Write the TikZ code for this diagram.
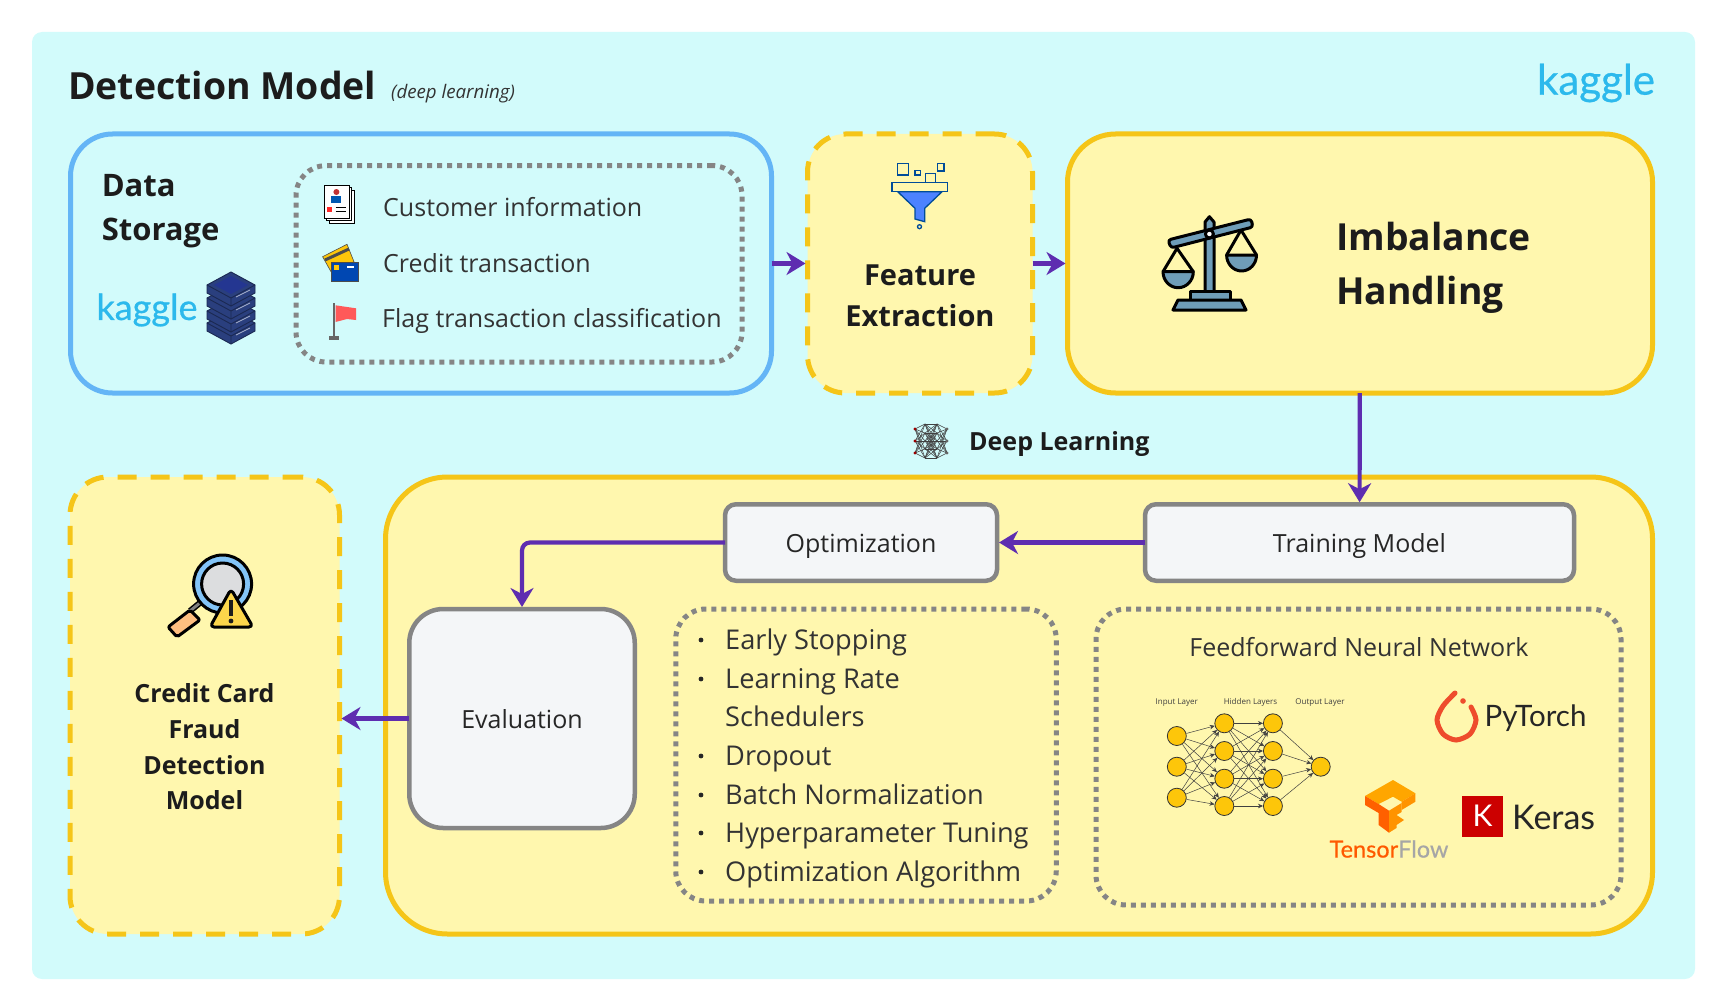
\documentclass[tikz,border=0pt]{standalone}
\usepackage{fontspec}
\usepackage{xcolor}
\usepackage{tikz}
\usetikzlibrary{arrows.meta,positioning,calc}
\setmainfont{Open Sans}
\newfontfamily\logofont{Lato}
\definecolor{cSky}{HTML}{D2FBFB}
\definecolor{cSoft}{HTML}{FFF7AE}
\definecolor{cGold}{HTML}{F5C518}
\definecolor{cBlue}{HTML}{64B5F6}
\definecolor{cGrey}{HTML}{858585}
\definecolor{cPale}{HTML}{F4F6F8}
\definecolor{cFlow}{HTML}{5E2DB0}
\definecolor{cInk}{HTML}{1C1C1C}
\definecolor{cKag}{HTML}{2CB9EC}
\definecolor{cNet}{HTML}{FDC60A}
\definecolor{cTorch}{HTML}{EE4C2C}
\definecolor{cSteel}{HTML}{6F9DB8}
\definecolor{cDeep}{HTML}{2A3F7E}
\tikzset{
  panel/.style={rounded corners=#1, line width=5pt, outer sep=0pt, inner sep=0pt, align=center, text=cInk},
  solid box/.style={panel=38pt, draw=cGold, fill=cSoft},
  dash box/.style={panel=38pt, draw=cGold, fill=cSoft, dash pattern=on 19pt off 14pt},
  dots box/.style={panel=30pt, draw=cGrey, dash pattern=on 5pt off 5pt},
  step box/.style={panel=#1, draw=cGrey, fill=cPale, line width=4.5pt, text=black!85, font=\fontsize{25}{25}\selectfont, text height=25pt, text depth=5pt},
  head/.style={font=\bfseries\fontsize{#1}{#1}\selectfont, text=cInk, inner sep=0pt},
  body/.style={font=\fontsize{#1}{#1}\selectfont, text=black!80, inner sep=0pt},
  logo/.style={font=\logofont\fontsize{#1}{#1}\selectfont, text=cKag, inner sep=0pt},
  flow/.style={-{Stealth[length=19pt,width=23pt,inset=6pt]}, line width=4.2pt, draw=cFlow, shorten >=2pt},
  neuron/.style={circle, draw=black!80, fill=cNet, line width=0.8pt, minimum size=19pt, inner sep=0pt},
  syn/.style={-{Stealth[length=5pt,width=4.5pt]}, line width=0.5pt, draw=black!75},
  tiny lbl/.style={font=\fontsize{8}{8}\selectfont, text=black!75, inner sep=0pt},
  mark line/.style={draw=black, line width=3pt, line join=round},
}
\begin{document}
\begin{tikzpicture}[x=1pt,y=-1pt]
  \useasboundingbox (0,0) rectangle (1731,1006);
  \fill[cSky, rounded corners=10pt] (32,32) rectangle (1695,979);
  \node[head=37.4, anchor=base west] (title) at (68,100) {Detection Model};
  \node[body=18.7, anchor=base west] (sub) at (391,98.5) {\itshape (deep learning)};
  \node[logo=42, font=\logofont\fontsize{42}{42}\selectfont\addfontfeature{FakeBold=0.6}] (kag) at (1596,83) {kaggle};

  % upper row
  \node[panel=42pt, draw=cBlue, minimum width=701pt, minimum height=259pt, anchor=north west] (data) at (70.5,134) {};
  \node[dash box, right=36pt of data, minimum width=225pt, minimum height=259pt] (feat) {};
  \node[solid box, panel=48pt, right=35pt of feat, minimum width=585pt, minimum height=259pt] (imb) {};
  \node[dots box, minimum width=446pt, minimum height=196.4pt] (src) at (519,263.8) {};
  \node[head=31, anchor=base west] (d1) at (101.6,196) {Data};
  \node[head=31, anchor=base west] (d2) at (101.6,240) {Storage};
  \node[logo=36, font=\logofont\fontsize{36}{36}\selectfont\addfontfeature{FakeBold=0.6}] (kag2) at (147,310) {kaggle};
  \node[body=25, anchor=base west] (src1) at (383,216.5) {Customer information};
  \node[body=25, anchor=base west] (src2) at (383,272) {Credit transaction};
  \node[body=25, anchor=base west] (src3) at (382,327) {Flag transaction classification};
  \node[head=29, anchor=base] (f1) at (920,285) {Feature};
  \node[head=29, anchor=base] (f2) at (920,326) {Extraction};
  \node[head=37.3, anchor=base west] (i1) at (1336,250) {Imbalance};
  \node[head=37.3, anchor=base west] (i2) at (1336,304) {Handling};

  % lower row
  \node[dash box, anchor=north west, minimum width=269.5pt, minimum height=457pt] (fraud) at (70,477) {};
  \node[solid box, panel=62pt, right=46pt of fraud, minimum width=1267pt, minimum height=457pt] (deep) {};
  \node[head=25, anchor=base west] (dl) at (969,450) {Deep Learning};
  \node[step box=11pt, minimum width=429pt, minimum height=76.5pt] (trn) at (1359.5,542.5) {Training Model};
  \node[step box=11pt, left=148pt of trn, minimum width=272pt, minimum height=76.5pt] (opt) {Optimization};
  \node[step box=34pt, minimum width=225.5pt, minimum height=219pt] (eval) at (522,718.5) {Evaluation};
  \node[dots box, minimum width=380.5pt, minimum height=292pt] (tune) at (866,755) {};
  \node[dots box, minimum width=525pt, minimum height=296pt] (fnn) at (1358.5,757) {};
  \foreach \n/\yy/\txt in {a/649/Early Stopping, b/688/Learning Rate, c/726/Schedulers, d/765/Dropout, e/804/Batch Normalization, f/842/Hyperparameter Tuning, g/881/Optimization Algorithm}
    \node[body=27.2, anchor=base west] (tune\n) at (725,\yy) {\txt};
  \foreach \n/\yy in {a/640,b/679,d/756,e/795,f/833,g/872}
    \fill[black!85] (701,\yy) circle (2.4pt);
  \node[body=25, anchor=base] (fnnhead) at (1359,656) {Feedforward Neural Network};
  \foreach \n/\yy/\txt in {a/702/Credit Card, b/738/Fraud, c/774/Detection, d/809/Model}
    \node[head=25, anchor=base] (res\n) at (204.5,\yy) {\txt};

  % network picture
  \foreach \i/\yy in {1/736,2/766.7,3/797.7} \node[neuron] (in\i) at (1176.8,\yy) {};
  \foreach \i/\yy in {1/723.3,2/751,3/778.7,4/806} {
    \node[neuron] (ha\i) at (1224.3,\yy) {};
    \node[neuron] (hb\i) at (1272.9,\yy) {};
  }
  \node[neuron] (out) at (1320.7,766.7) {};
  \foreach \i in {1,2,3} \foreach \j in {1,2,3,4} \draw[syn] (in\i) -- (ha\j);
  \foreach \i in {1,2,3,4} \foreach \j in {1,2,3,4} \draw[syn] (ha\i) -- (hb\j);
  \foreach \i in {1,2,3,4} \draw[syn] (hb\i) -- (out);
  \node[tiny lbl] (lin) at (1176.8,703) {Input Layer};
  \node[tiny lbl] (lhid) at (1250.5,702.7) {Hidden Layers};
  \node[tiny lbl] (lout) at (1320,703) {Output Layer};

  % framework logos
  \draw[cTorch, line width=5pt, line cap=round] plot[smooth] coordinates {(1455,693) (1443,706) (1437,720) (1443,734) (1456,740) (1470,734) (1476,720) (1471,707)};
  \fill[cTorch] (1463,701) circle (2.8pt);
  \node[anchor=west, inner sep=0pt, font=\logofont\fontsize{29.5}{29.5}\selectfont, text=black!85] (torch) at (1484.5,718) {PyTorch};
  \node[fill=red!80!black, text=white, minimum size=41pt, inner sep=0pt, font=\logofont\fontsize{30}{30}\selectfont] (kbox) at (1482.5,816) {K};
  \node[anchor=west, inner sep=0pt, font=\logofont\fontsize{34}{34}\selectfont, text=black!85] (keras) at (1512,817) {Keras};
  \node[inner sep=0pt, font=\logofont\fontsize{23.5}{23.5}\selectfont\addfontfeature{FakeBold=0.5}] (tflow) at (1389,849) {\textcolor{orange!70!red}{Tensor}\textcolor{black!35}{Flow}};
  \fill[orange!70!yellow] (1365,796) -- (1393,780) -- (1415.4,793.3) -- (1401.6,801.7) -- (1393,796.7) -- (1378.6,804) -- cycle;
  \fill[orange!75!red] (1365,796) -- (1378.6,804) -- (1389,810.7) -- (1389,832.7) -- (1378.6,825) -- (1378.6,813) -- (1365,805) -- cycle;
  \fill[orange!85!yellow] (1415.4,793.3) -- (1415.4,801.7) -- (1401.6,810) -- (1401.6,801.7) -- cycle;
  \fill[orange!85!yellow] (1389,810.7) -- (1401.6,803) -- (1401.6,812) -- (1396.5,815) -- (1404,820) -- (1396.5,825) -- (1396.5,828) -- (1389,832.7) -- cycle;

  % data icons
  \foreach \o in {5,2.5,0} \draw[fill=white, line width=0.8pt] (324+\o,185+\o) rectangle (349+\o,218+\o);
  \fill[red!70!black!80] (336.4,192) circle (3pt);
  \fill[blue!50!cyan!70!black] (331,203) rectangle (341,196);
  \fill[red!85] (327,207) rectangle (332,212);
  \draw[line width=1pt] (335.5,207) -- (345.5,207) (335.5,211) -- (345.5,211);
  \fill[cNet, draw=black!70, line width=0.6pt] (322.6,256.7) -- (347,244.3) -- (354,261.7) -- (331,271.7) -- cycle;
  \draw[black!70, line width=3pt] (325,260) -- (349,249);
  \fill[blue!60!cyan!70!black, draw=black!70, line width=0.6pt] (331,262) rectangle (358.5,281);
  \fill[cNet] (334,265) rectangle (339,270);
  \draw[white, line width=1.5pt] (347,267) -- (354,267);
  \draw[black!60, line width=2pt] (333.6,303) -- (333.6,336);
  \fill[black!60] (328.6,336) rectangle (338.7,340);
  \fill[red!65!white] (335.5,305.3) -- (356,308.3) -- (356,320) -- (347,319) -- (335.5,322) -- cycle;
  % server stack
  \foreach \cc in {323,311,298,285} {
    \fill[cDeep, draw=black!35!cDeep, line width=0.9pt] (207,\cc) -- (231,\cc-13) -- (255,\cc) -- (255,\cc+8) -- (231,\cc+21) -- (207,\cc+8) -- cycle;
    \draw[white!60!cDeep, line width=0.8pt] (236,\cc+12) -- (250,\cc+5);
    \draw[black!35!cDeep, line width=0.9pt] (207,\cc) -- (231,\cc+13) -- (255,\cc) (231,\cc+13) -- (231,\cc+21);
  }
  \fill[blue!15!cDeep] (214,285) -- (231,276) -- (248,285) -- (231,294) -- cycle;
  % funnel
  \begin{scope}[draw=blue!50!cyan!60!black, line width=1.3pt]
    \draw (897.7,163.3) rectangle (908.6,175);
    \draw (915,170.7) rectangle (920.6,175);
    \draw (925.8,173.3) rectangle (935.6,182.3);
    \draw (937.3,163.3) rectangle (944,171);
    \draw[fill=cSoft] (892,182.3) rectangle (947.6,191.7);
    \draw[fill=blue!70!cyan!70] (897.7,191.7) -- (942,191.7) -- (924.7,208.3) -- (924.7,221.7) -- (915,219) -- (915,208.3) -- cycle;
    \draw (919.5,226.7) circle (2pt);
  \end{scope}
  % balance
  \draw[mark line, fill=cSteel] (1163,271.7) -- (1193.3,271.7) arc[start angle=0, end angle=-180, x radius=15.15pt, y radius=16pt] -- cycle;
  \draw[mark line, fill=cSteel] (1226.6,255) -- (1256.5,255) arc[start angle=0, end angle=-180, x radius=14.95pt, y radius=16pt] -- cycle;
  \draw[mark line] (1163,271.7) -- (1177,248.3) -- (1193.3,271.7);
  \draw[mark line] (1226.6,255) -- (1241,230) -- (1256.5,255);
  \draw[mark line, fill=cSteel] (1205,222) -- (1209.4,216.7) -- (1214,222) -- (1214,291.7) -- (1205,291.7) -- cycle;
  \draw[mark line, fill=cSteel, rounded corners=3pt] (1168,240) -- (1251,219) -- (1253,227) -- (1171,248) -- cycle;
  \draw[mark line, fill=white] (1209.4,234) circle (4pt);
  \draw[mark line, fill=cSteel] (1190.4,300) -- (1190.4,291.7) -- (1230.6,291.7) -- (1230.6,300) -- cycle;
  \draw[mark line, fill=cSteel] (1173,310) -- (1178,300) -- (1241,300) -- (1246,310) -- cycle;
  % neural mesh
  \begin{scope}[black!75, line width=0.5pt]
    \foreach \ya in {429,441,453} \foreach \yb in {424,433,441,449,458} {
      \draw (915,\ya) -- (925,\yb);
      \draw (947,\ya) -- (937,\yb);
    }
    \foreach \ya in {424,433,441,449,458} \foreach \yb in {424,433,441,449,458}
      \draw (925,\ya) -- (937,\yb);
    \foreach \yy in {429,441,453} \fill[red!60!black] (915,\yy) circle (1.6pt);
    \foreach \yy in {429,441,453} \fill[black!60] (947,\yy) circle (1.6pt);
  \end{scope}
  % magnifier
  \draw[black, line width=6pt] (190,611) -- (201,602);
  \draw[black!50, line width=3pt] (190,611) -- (201,602);
  \draw[mark line, fill=orange!50!white, rounded corners=2pt] (168,627) -- (190,610) -- (200,620) -- (177,637) -- cycle;
  \draw[mark line, fill=cBlue!80!white] (222.6,584) circle (29pt);
  \draw[mark line, fill=cPale!90!black] (222.6,584) circle (21pt);
  \draw[mark line, fill=yellow!60!orange!70!white, rounded corners=4pt] (231,589) -- (253,627) -- (210,627) -- cycle;
  \fill[cInk] (229,600) rectangle (233,616);
  \fill[cInk] (231,621) circle (2.4pt);

  % connectors
  \draw[flow] (data) -- (feat);
  \draw[flow] (feat) -- (imb);
  \draw[flow] (imb) -- (trn);
  \draw[flow] (trn) -- (opt);
  \draw[flow, rounded corners=8pt] (opt.west) -| (eval.north);
  \draw[flow] (eval) -- (eval -| fraud.east);
\end{tikzpicture}
\end{document}
